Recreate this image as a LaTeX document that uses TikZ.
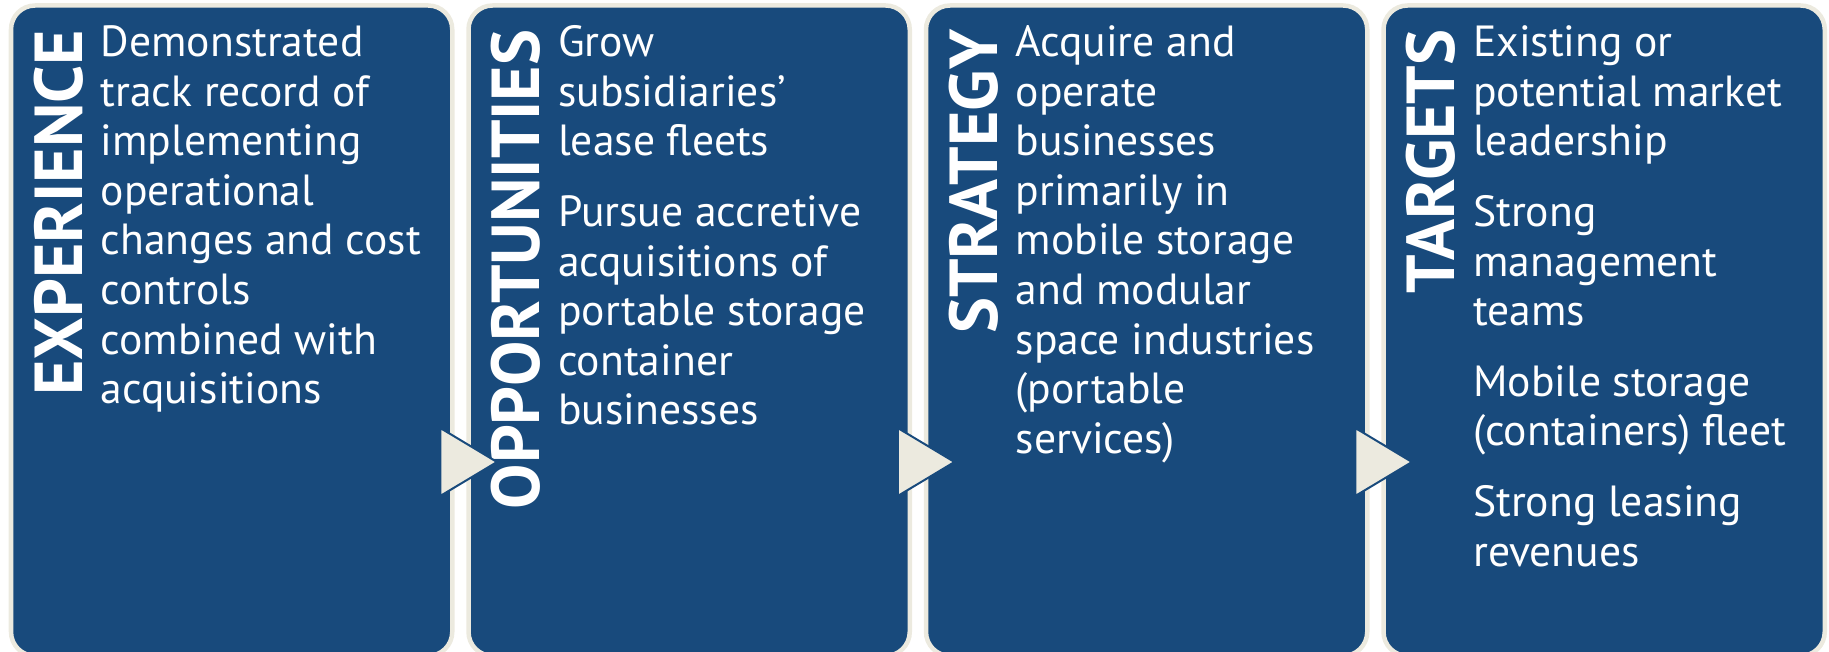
\documentclass[tikz,border=0pt]{standalone}
\usepackage{fontspec}
\setmainfont{PT Sans}

\definecolor{panelblue}{RGB}{24,74,124}
\definecolor{cream}{RGB}{236,234,223}

\begin{document}
\begin{tikzpicture}[x=0.01cm, y=-0.01cm,
      panel/.style={draw=cream, line width=0.045cm, fill=panelblue,
         rounded corners=0.24cm, minimum width=4.41cm, minimum height=6.5cm,
         inner sep=0pt, outer sep=0pt, anchor=north west},
      heading/.style={rotate=90, anchor=base east, inner sep=0pt, text=white,
         font=\fontsize{19.3}{19.3}\selectfont\bfseries},
      body/.style={anchor=north west, inner sep=0pt, align=left, text=white,
         font=\fontsize{12.4}{14.1}\selectfont},
      chevron/.style={fill=cream, draw=panelblue, line width=0.02cm, line join=miter}]

      \useasboundingbox (0,0) rectangle (1829,652);
      \clip (0,0) rectangle (1829,652);

      \def\pitch{457.5}

      % the four panels
      \node[panel] (exper) at (11,5.5) {};
      \node[panel] (oppor) at (11+\pitch,5.5) {};
      \node[panel] (strat) at (11+2*\pitch,5.5) {};
      \node[panel] (targ)  at (11+3*\pitch,5.5) {};

      % vertical headings
      \node[heading] (experhead) at ([shift={(71,23.5)}]exper.north west) {EXPERIENCE};
      \node[heading] (opporhead) at ([shift={(71,23.5)}]oppor.north west) {OPPORTUNITIES};
      \node[heading] (strathead) at ([shift={(71,23.5)}]strat.north west) {STRATEGY};
      \node[heading] (targhead)  at ([shift={(71,23.5)}]targ.north west)  {TARGETS};

      % panel texts (strut fixes the first baseline)
      \node[body] (experbody) at ([shift={(89,15.7)}]exper.north west)
         {\strut Demonstrated\\track record of\\implementing\\operational\\changes and cost\\controls\\combined with\\acquisitions};

      \node[body] (opporbody) at ([shift={(89,15.7)}]oppor.north west)
         {\strut Grow\\subsidiaries’\\lease fleets\\[6pt]Pursue accretive\\acquisitions of\\portable storage\\container\\businesses};

      \node[body] (stratbody) at ([shift={(89,15.7)}]strat.north west)
         {\strut Acquire and\\operate\\businesses\\primarily in\\mobile storage\\and modular\\space industries\\(portable\\services)};

      \node[body] (targbody) at ([shift={(89,15.7)}]targ.north west)
         {\strut Existing or\\potential market\\leadership\\[6pt]Strong\\management\\teams\\[6pt]Mobile storage\\(containers) fleet\\[6pt]Strong leasing\\revenues};

      % arrows between panels
      \foreach \a/\b in {exper/oppor, oppor/strat, strat/targ}
         \draw[chevron] ([shift={(-12,422.5)}]\a.north east) -- ([shift={(28.5,456.5)}]\b.north west)
            -- ([shift={(-12,490.5)}]\a.north east) -- cycle;

   \end{tikzpicture}
\end{document}
